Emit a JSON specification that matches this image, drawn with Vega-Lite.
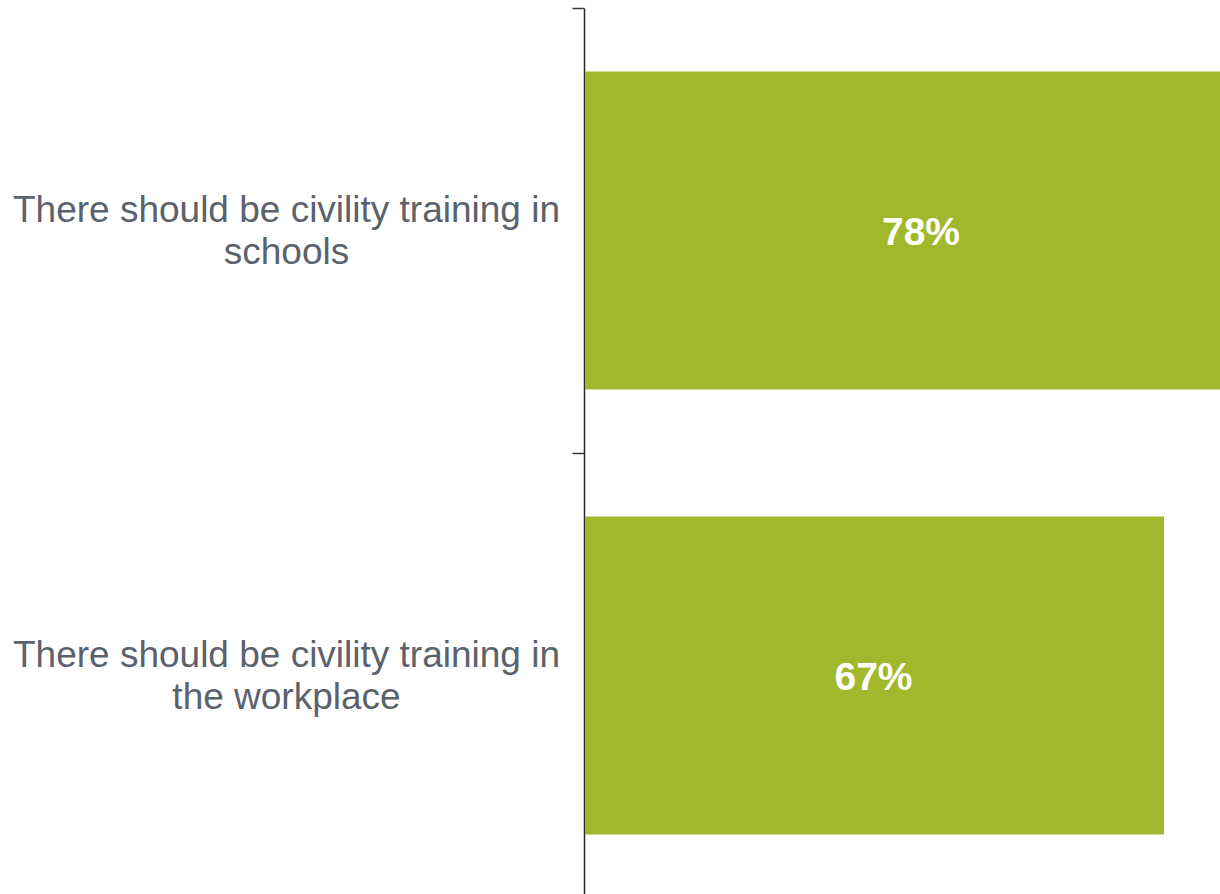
{
  "$schema": "https://vega.github.io/schema/vega-lite/v6.json",
  "width": 636,
  "height": 890,
  "autosize": {"type": "none"},
  "padding": {"left": 584, "top": 8, "right": 0, "bottom": 0},
  "background": "white",
  "config": {"view": {"stroke": null}},
  "data": {
    "values": [
      {"statement": "There should be civility training in schools", "share": 0.78},
      {"statement": "There should be civility training in the workplace", "share": 0.67}
    ]
  },
  "transform": [{"calculate": "datum.share / 2", "as": "mid"}],
  "encoding": {
    "y": {
      "field": "statement",
      "type": "nominal",
      "sort": null,
      "scale": {"paddingInner": 0, "paddingOuter": 0},
      "axis": {
        "title": null,
        "tickBand": "extent",
        "tickSize": 12,
        "tickColor": "#3a3a3a",
        "tickWidth": 1.5,
        "domainColor": "#2a2a2a",
        "domainWidth": 1.5,
        "labelFont": "Liberation Sans",
        "labelFontSize": 37,
        "labelColor": "#5b626c",
        "labelAlign": "center",
        "labelBaseline": "middle",
        "labelLineHeight": 42,
        "labelPadding": 286,
        "labelOffset": -20,
        "labelLimit": 0,
        "labelExpr": "isValid(datum.value) ? ['There should be civility training in', replace(datum.value, 'There should be civility training in ', '')] : ''"
      }
    }
  },
  "layer": [
    {
      "mark": {"type": "bar", "color": "#a1b82c", "clip": true, "height": {"band": 0.715}, "xOffset": 1},
      "encoding": {
        "x": {
          "field": "share",
          "type": "quantitative",
          "scale": {"domain": [0, 0.736], "nice": false, "zero": true},
          "axis": null
        }
      }
    },
    {
      "mark": {"type": "text", "color": "white", "font": "Liberation Sans", "fontWeight": "bold", "fontSize": 39, "baseline": "middle", "align": "center", "dy": 2},
      "encoding": {
        "x": {"field": "mid", "type": "quantitative"},
        "text": {"field": "share", "type": "quantitative", "format": ".0%"}
      }
    }
  ]
}
